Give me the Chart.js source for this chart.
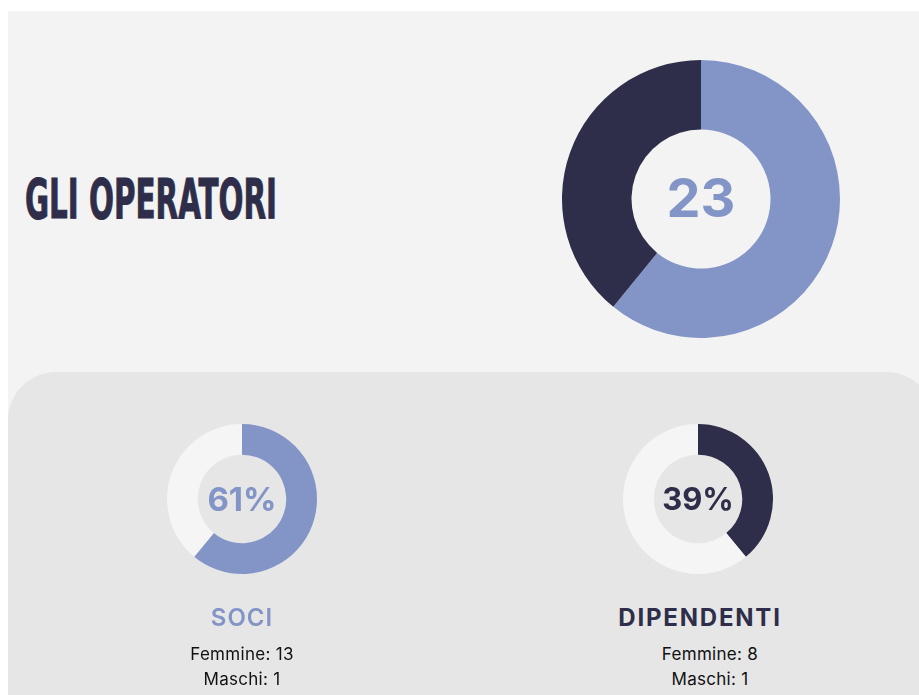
<!DOCTYPE html>
<html>
<head>
<meta charset="utf-8">
<script src="https://cdn.jsdelivr.net/npm/chart.js@4"></script>
<style>
  body { margin: 0; background: #fff; width: 919px; height: 695px; overflow: hidden; position: relative; font-family: Inter, sans-serif; }
  .panel { position: absolute; left: 8px; top: 11px; right: 0; bottom: 0; background: #f3f3f3; }
  .inner { position: absolute; left: 8px; top: 372px; width: 925px; height: 400px; background: #e6e6e6; border-radius: 48px 46px 0 0; }
  canvas { position: absolute; }
  .txt { position: absolute; white-space: nowrap; line-height: 1; transform: translate(-50%, 0); text-align: center; }
  #title { position: absolute; left: 25px; top: 171px; font-family: "Liberation Sans Narrow", "DejaVu Sans Condensed", sans-serif; font-weight: 700; font-size: 56px; line-height: 1; color: #2e2e4a; -webkit-text-stroke: 1px #2e2e4a; transform-origin: 0 0; white-space: nowrap; }
</style>
</head>
<body>
<div class="panel"></div>
<div class="inner"></div>
<div id="title">GLI OPERATORI</div>

<canvas id="totChart" width="278" height="278" style="left:562px;top:60px"></canvas>
<canvas id="sociChart" width="150" height="150" style="left:167px;top:424px"></canvas>
<canvas id="dipChart" width="150" height="150" style="left:623px;top:424px"></canvas>

<div class="txt" id="totLabel" style="left:701px;top:171px;font-size:54px;font-weight:700;color:#8394c7"></div>
<div class="txt" id="sociPct" style="left:242px;top:483px;font-size:33px;font-weight:700;color:#8394c7"></div>
<div class="txt" id="dipPct" style="left:698px;top:483px;font-size:31px;font-weight:700;color:#2e2e4a"></div>
<div class="txt" id="sociName" style="left:242px;top:606px;font-size:24px;font-weight:600;letter-spacing:1px;color:#8394c7"></div>
<div class="txt" id="dipName" style="left:700px;top:606px;font-size:24px;font-weight:700;letter-spacing:1.8px;color:#2e2e4a"></div>
<div class="txt" id="sociF" style="left:242px;top:646px;font-size:17px;letter-spacing:0.3px;color:#111"></div>
<div class="txt" id="sociM" style="left:242px;top:671px;font-size:17px;letter-spacing:0.3px;color:#111"></div>
<div class="txt" id="dipF" style="left:710px;top:646px;font-size:17px;letter-spacing:0.3px;color:#111"></div>
<div class="txt" id="dipM" style="left:710px;top:671px;font-size:17px;letter-spacing:0.3px;color:#111"></div>

<script>
const categories = ['SOCI', 'DIPENDENTI'];
const operatori = [14, 9];
const femmine = [13, 8];
const maschi = [1, 1];

const blue = '#8394c7';
const dark = '#2e2e4a';
const track = '#f5f5f5';

const totale = operatori[0] + operatori[1];
const percent = operatori.map(v => Math.round(v / totale * 100));

const baseOptions = (cut) => ({
  responsive: false,
  animation: false,
  cutout: cut,
  layout: { padding: 0 },
  plugins: { legend: { display: false }, tooltip: { enabled: false } },
  events: []
});

new Chart(document.getElementById('totChart'), {
  type: 'doughnut',
  data: {
    labels: categories,
    datasets: [{
      data: operatori,
      backgroundColor: [blue, dark],
      borderWidth: 0,
      hoverOffset: 0
    }]
  },
  options: baseOptions('50%')
});

new Chart(document.getElementById('sociChart'), {
  type: 'doughnut',
  data: {
    labels: [categories[0], ''],
    datasets: [{
      data: [percent[0], 100 - percent[0]],
      backgroundColor: [blue, track],
      borderWidth: 0,
      hoverOffset: 0
    }]
  },
  options: baseOptions('59%')
});

new Chart(document.getElementById('dipChart'), {
  type: 'doughnut',
  data: {
    labels: [categories[1], ''],
    datasets: [{
      data: [percent[1], 100 - percent[1]],
      backgroundColor: [dark, track],
      borderWidth: 0,
      hoverOffset: 0
    }]
  },
  options: baseOptions('59%')
});

document.getElementById('totLabel').textContent = totale;
document.getElementById('sociPct').textContent = percent[0] + '%';
document.getElementById('dipPct').textContent = percent[1] + '%';
document.getElementById('sociName').textContent = categories[0];
document.getElementById('dipName').textContent = categories[1];
document.getElementById('sociF').textContent = 'Femmine: ' + femmine[0];
document.getElementById('sociM').textContent = 'Maschi: ' + maschi[0];
document.getElementById('dipF').textContent = 'Femmine: ' + femmine[1];
document.getElementById('dipM').textContent = 'Maschi: ' + maschi[1];

// squeeze the title to the width of the original condensed headline
const title = document.getElementById('title');
const w = title.getBoundingClientRect().width;
title.style.transform = 'scale(' + (252 / w) + ', 1)';
</script>
</body>
</html>
